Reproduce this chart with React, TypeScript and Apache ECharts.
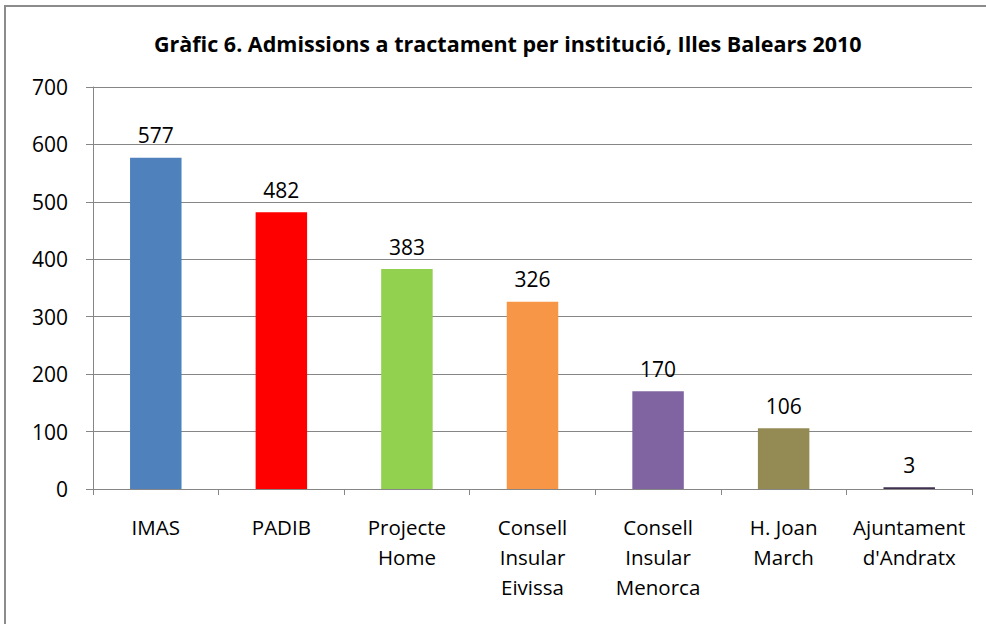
import React, { useEffect, useRef } from "react";
import * as echarts from "echarts";

const categories = [
  "IMAS",
  "PADIB",
  "Projecte\nHome",
  "Consell\nInsular\nEivissa",
  "Consell\nInsular\nMenorca",
  "H. Joan\nMarch",
  "Ajuntament\nd'Andratx",
];
const values = [577, 482, 383, 326, 170, 106, 3];
const colors = ["#4F81BD", "#FF0000", "#92D050", "#F79646", "#8064A2", "#948A54", "#403151"];
const yTicks = { min: 0, max: 700, interval: 100 };
const title = "Gràfic 6. Admissions a tractament per institució, Illes Balears 2010";

const FONT = "'Open Sans', 'Noto Sans', sans-serif";

export default function App() {
  const ref = useRef<HTMLDivElement>(null);
  useEffect(() => {
    if (!ref.current) return;
    const chart = echarts.init(ref.current, null, { renderer: "svg" });
    chart.setOption({
      animation: false,
      backgroundColor: "#ffffff",
      title: {
        text: title,
        left: 149,
        top: 27,
        textStyle: { fontFamily: FONT, fontSize: 21.5, fontWeight: "bold", color: "#000" },
      },
      graphic: [
        {
          type: "rect",
          shape: { x: 5, y: 6, width: 1000, height: 700 },
          style: { fill: "none", stroke: "#8c8c8c", lineWidth: 2 },
          silent: true,
        },
      ],
      grid: { left: 93, right: 14, top: 87, bottom: 135, containLabel: false },
      xAxis: {
        type: "category",
        data: categories,
        axisLine: { lineStyle: { color: "#868686", width: 1 } },
        axisTick: { show: true, length: 6, lineStyle: { color: "#868686" }, alignWithLabel: false },
        axisLabel: {
          interval: 0,
          margin: 23,
          fontFamily: FONT,
          fontSize: 20.5,
          lineHeight: 30,
          color: "#000",
        },
      },
      yAxis: {
        type: "value",
        min: yTicks.min,
        max: yTicks.max,
        interval: yTicks.interval,
        axisLine: { show: true, lineStyle: { color: "#868686" } },
        axisTick: { show: true, length: 7, lineStyle: { color: "#868686" } },
        splitLine: { lineStyle: { color: "#868686", width: 1 } },
        axisLabel: { margin: 25, fontFamily: FONT, fontSize: 21, color: "#000" },
      },
      series: [
        {
          type: "bar",
          data: values.map((v, i) => ({ value: v, itemStyle: { color: colors[i] } })),
          barWidth: "41%",
          label: {
            show: true,
            position: "top",
            distance: 12,
            fontFamily: FONT,
            fontSize: 21,
            color: "#000",
          },
        },
      ],
    });
    return () => chart.dispose();
  }, []);
  return (
    <div
      ref={ref}
      style={{ position: "absolute", left: 0, top: 0, width: 986, height: 624 }}
    />
  );
}
